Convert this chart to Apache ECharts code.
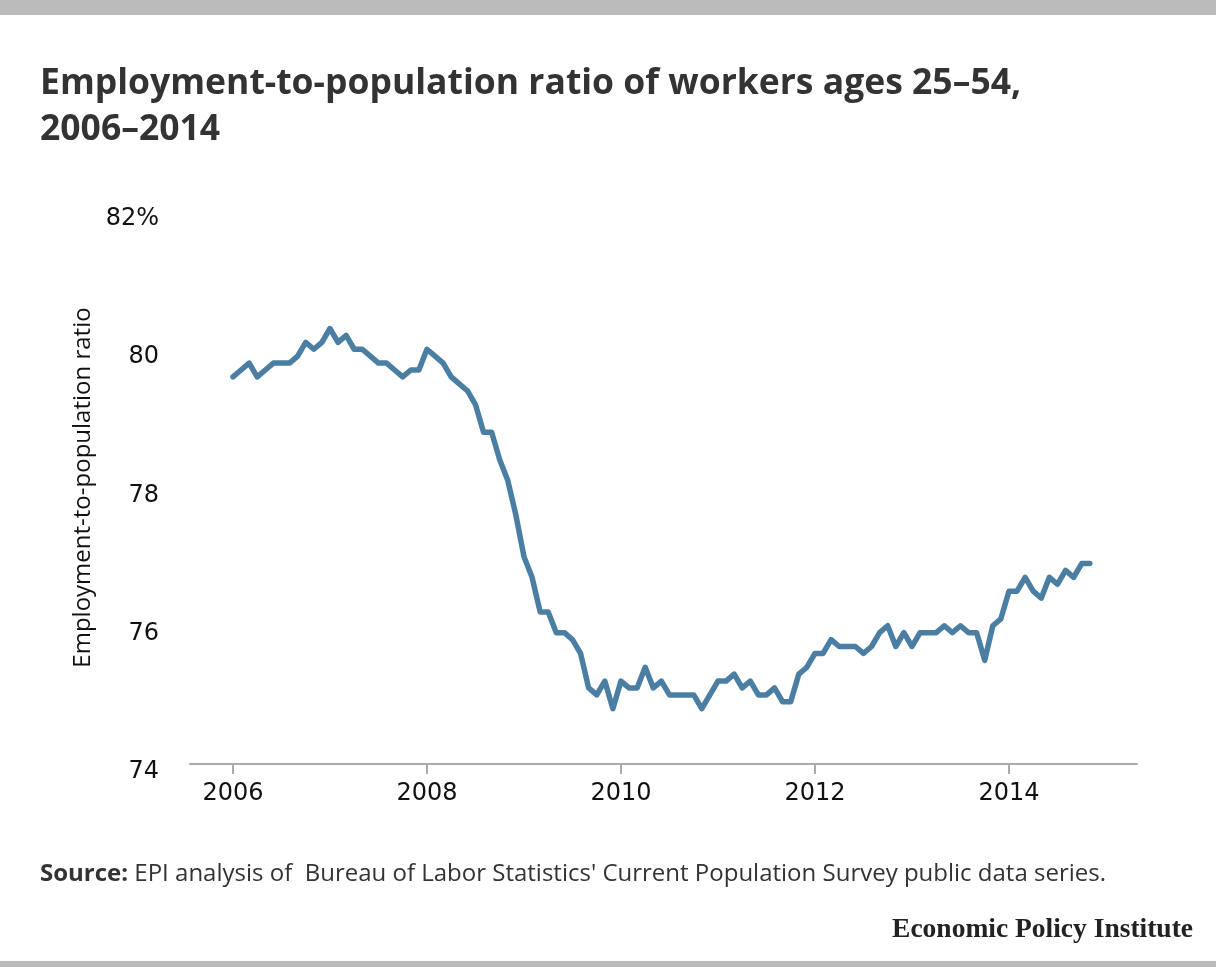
<!DOCTYPE html>
<html>
<head>
<meta charset="utf-8">
<script src="https://cdn.jsdelivr.net/npm/echarts@6/dist/echarts.min.js"></script>
<style>
  html, body { margin: 0; padding: 0; background: #fff; }
  #container { width: 1216px; height: 967px; }
</style>
</head>
<body>
<div id="container"></div>
<script>
// monthly series, Jan 2006 .. Nov 2014
var startYear = 2006;
var ratio2006 = [79.6, 79.7, 79.8, 79.6, 79.7, 79.8, 79.8, 79.8, 79.9, 80.1, 80.0, 80.1];
var ratio2007 = [80.3, 80.1, 80.2, 80.0, 80.0, 79.9, 79.8, 79.8, 79.7, 79.6, 79.7, 79.7];
var ratio2008 = [80.0, 79.9, 79.8, 79.6, 79.5, 79.4, 79.2, 78.8, 78.8, 78.4, 78.1, 77.6];
var ratio2009 = [77.0, 76.7, 76.2, 76.2, 75.9, 75.9, 75.8, 75.6, 75.1, 75.0, 75.2, 74.8];
var ratio2010 = [75.2, 75.1, 75.1, 75.4, 75.1, 75.2, 75.0, 75.0, 75.0, 75.0, 74.8, 75.0];
var ratio2011 = [75.2, 75.2, 75.3, 75.1, 75.2, 75.0, 75.0, 75.1, 74.9, 74.9, 75.3, 75.4];
var ratio2012 = [75.6, 75.6, 75.8, 75.7, 75.7, 75.7, 75.6, 75.7, 75.9, 76.0, 75.7, 75.9];
var ratio2013 = [75.7, 75.9, 75.9, 75.9, 76.0, 75.9, 76.0, 75.9, 75.9, 75.5, 76.0, 76.1];
var ratio2014 = [76.5, 76.5, 76.7, 76.5, 76.4, 76.7, 76.6, 76.8, 76.7, 76.9, 76.9];
var yearTicks = [2006, 2008, 2010, 2012, 2014];

var ratio = [].concat(ratio2006, ratio2007, ratio2008, ratio2009, ratio2010,
                      ratio2011, ratio2012, ratio2013, ratio2014);
var data = ratio.map(function (v, i) { return [startYear + i / 12, v]; });

var dom = document.getElementById("container");
var myChart = echarts.init(dom, null, {renderer: 'canvas'});
var font = '"Open Sans", Lato, sans-serif';
var tickFont = '"DejaVu Sans", "Open Sans", sans-serif';

var option = {
    backgroundColor: '#fff',
    animation: false,
    title: [{
        text: 'Employment-to-population ratio of workers ages 25–54,\n2006–2014',
        left: 35, top: 56,
        textStyle: {fontFamily: font, fontSize: 35.5, fontWeight: 'bold', color: '#333', lineHeight: 46}
    }, {
        text: '{b|Source:} EPI analysis of  Bureau of Labor Statistics\' Current Population Survey public data series.',
        left: 35, top: 857,
        textStyle: {
            fontFamily: font, fontSize: 24, fontWeight: 'normal', color: '#333',
            rich: {b: {fontFamily: font, fontSize: 24, fontWeight: 'bold', color: '#333'}}
        }
    }, {
        text: 'Economic Policy Institute',
        right: 18, top: 911,
        textStyle: {fontFamily: '"Liberation Serif", "DejaVu Serif", serif', fontSize: 27.5, fontWeight: 'bold', color: '#222'}
    }],
    graphic: [
        {type: 'rect', left: 0, top: 0, shape: {width: 1216, height: 15}, style: {fill: '#bbbbbb'}},
        {type: 'rect', left: 0, top: 961, shape: {width: 1216, height: 6}, style: {fill: '#bbbbbb'}}
    ],
    grid: {left: 190, right: 79, top: 211, bottom: 203, containLabel: false},
    xAxis: {
        type: 'value',
        min: 2005.557,
        max: 2015.32,
        axisLine: {show: true, lineStyle: {color: '#aaa', width: 2}},
        axisTick: {show: true, customValues: yearTicks, length: 10, lineStyle: {color: '#aaa', width: 2}},
        axisLabel: {
            customValues: yearTicks, margin: 18,
            fontFamily: tickFont, fontSize: 24, color: '#111',
            formatter: function (v) { return String(v); }
        },
        splitLine: {show: false}
    },
    yAxis: {
        type: 'value',
        min: 74, max: 82, interval: 2,
        name: 'Employment-to-population ratio',
        nameLocation: 'middle',
        nameGap: 95,
        nameTextStyle: {fontFamily: font, fontSize: 24, color: '#111'},
        axisLine: {show: false},
        axisTick: {show: false},
        splitLine: {show: false},
        axisLabel: {
            margin: 31, fontFamily: tickFont, fontSize: 24, color: '#111',
            verticalAlign: 'top', lineHeight: 16,
            formatter: function (v) { return v === 82 ? '82%' : String(v); }
        }
    },
    series: [{
        type: 'line',
        data: data,
        showSymbol: false,
        symbol: 'none',
        lineStyle: {color: '#4a7fa3', width: 5.5, cap: 'round', join: 'round'}
    }]
};
myChart.setOption(option, true);
</script>
</body>
</html>
